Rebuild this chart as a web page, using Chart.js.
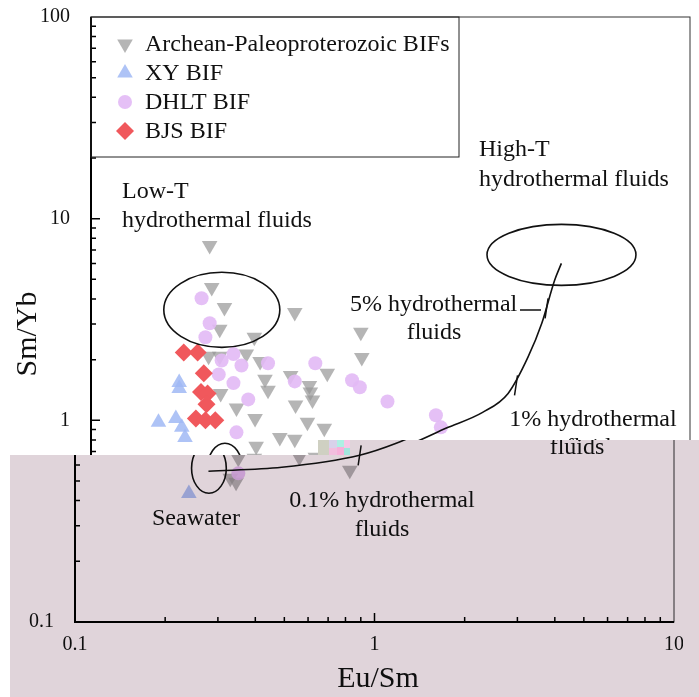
<!DOCTYPE html>
<html>
<head>
<meta charset="utf-8">
<script src="https://cdn.jsdelivr.net/npm/chart.js@4.4.1/dist/chart.umd.min.js"></script>
<style>
  body { margin: 0; background: #fff; }
  #wrap { width: 699px; height: 697px; }
</style>
</head>
<body>
<div id="wrap"><canvas id="chart"></canvas></div>
<script>
// values, [Eu/Sm, Sm/Yb]
const archeanPts = [
  [0.249, 7.37], [0.253, 4.56], [0.279, 3.63], [0.269, 2.83], [0.479, 3.43],
  [0.351, 2.58], [0.247, 2.08], [0.269, 2.08], [0.33, 2.13], [0.367, 1.96],
  [0.381, 1.60], [0.39, 1.41], [0.464, 1.67], [0.536, 1.49], [0.54, 1.38],
  [0.549, 1.26], [0.615, 1.71], [0.271, 1.36], [0.306, 1.15], [0.482, 1.19],
  [0.353, 1.02], [0.528, 0.977], [0.601, 0.913], [0.427, 0.823], [0.479, 0.805],
  [0.356, 0.743], [0.802, 2.05], [0.796, 2.73], [0.351, 0.648], [0.33, 0.516],
  [0.345, 0.493], [0.561, 0.656], [0.827, 0.565]
];
const xyPts = [
  [0.197, 1.54], [0.197, 1.44], [0.168, 0.977], [0.192, 1.02], [0.201, 0.923],
  [0.206, 0.823], [0.24, 0.434]
];
const dhltPts = [
  [0.234, 4.03], [0.249, 3.03], [0.241, 2.58], [0.299, 2.13], [0.273, 1.98],
  [0.318, 1.87], [0.39, 1.92], [0.561, 1.92], [0.267, 1.69], [0.299, 1.53],
  [0.479, 1.56], [0.335, 1.27], [0.306, 0.872], [0.744, 1.58], [0.79, 1.46],
  [0.977, 1.24], [1.418, 1.06], [1.473, 0.923], [0.351, 0.546]
];
const bjsPts = [
  [0.204, 2.17], [0.227, 2.17], [0.238, 1.71], [0.233, 1.38], [0.245, 1.36],
  [0.243, 1.20], [0.224, 1.02], [0.241, 1.0], [0.26, 1.0]
];
// seawater -> high-T fluid mixing curve
const mixingCurve = [
  [0.279, 0.559], [0.49, 0.585], [0.892, 0.671], [1.182, 0.769], [1.53, 0.913],
  [2.03, 1.095], [2.47, 1.36], [2.875, 2.05], [3.2, 3.03], [3.53, 4.94], [3.72, 6.0]
];
const mixTicks = [[0.892, 0.671], [2.625, 1.49], [3.32, 3.59]];
// fields: [xmin, xmax, ymin, ymax]
const lowTField = [0.175, 0.427, 2.30, 5.42];
const highTField = [2.1, 6.6, 4.67, 9.37];
const seawaterField = [0.245, 0.32, 0.435, 0.77];

const xTickLabels = ['0.1', '1', '10'];
const yTickLabels = ['0.1', '1', '10', '100'];

const toPts = arr => arr.map(p => ({x: p[0], y: p[1]}));
const serif = '"Liberation Serif", "Times New Roman", serif';

function decadeLabel(labels) {
  return function(v) {
    const hit = labels.find(l => Math.abs(Number(l) - v) < 1e-9 * Math.max(1, v));
    return hit || '';
  };
}

const series = [
  {label: 'Archean-Paleoproterozoic BIFs', style: 'triangle', rot: 180, r: 9, color: 'rgba(150,150,150,0.7)'},
  {label: 'XY BIF', style: 'triangle', rot: 0, r: 9, color: 'rgba(160,185,245,0.85)'},
  {label: 'DHLT BIF', style: 'circle', rot: 0, r: 7, color: 'rgba(226,185,245,0.9)'},
  {label: 'BJS BIF', style: 'rectRot', rot: 0, r: 9, color: 'rgb(240,88,92)'}
];

function drawText(ctx, s, x, y, align) {
  ctx.textAlign = align || 'left';
  ctx.fillText(s, x, y);
}

const decor = {
  id: 'decor',
  beforeDraw(chart) {
    const ctx = chart.ctx;
    ctx.save();
    ctx.fillStyle = '#fff';
    ctx.fillRect(0, 0, chart.width, chart.height);
    ctx.restore();
  },
  afterDraw(chart) {
    const ctx = chart.ctx;
    const a = chart.chartArea;
    const xs = chart.scales.x, ys = chart.scales.y;
    ctx.save();

    // frame
    ctx.strokeStyle = '#333';
    ctx.lineWidth = 1;
    ctx.strokeRect(a.left, a.top, a.right - a.left, a.bottom - a.top);
    ctx.strokeStyle = '#000';
    ctx.lineWidth = 2;
    ctx.beginPath();
    ctx.moveTo(a.left, a.top);
    ctx.lineTo(a.left, a.bottom);
    ctx.lineTo(a.right, a.bottom);
    ctx.stroke();

    // inward log ticks
    ctx.lineWidth = 1.5;
    ctx.beginPath();
    for (let e = -1; e < 2; e++) {
      for (let k = 1; k < 10; k++) {
        const v = k * Math.pow(10, e);
        const len = k === 1 ? 9 : 5;
        const py = ys.getPixelForValue(v);
        ctx.moveTo(a.left, py); ctx.lineTo(a.left + len, py);
      }
    }
    for (let e = -1; e < 1; e++) {
      for (let k = 1; k < 10; k++) {
        const v = k * Math.pow(10, e);
        const len = k === 1 ? 9 : 5;
        const px = xs.getPixelForValue(v);
        ctx.moveTo(px, a.bottom); ctx.lineTo(px, a.bottom - len);
      }
    }
    ctx.stroke();

    // legend box
    ctx.lineWidth = 1;
    ctx.strokeStyle = '#222';
    ctx.strokeRect(a.left, a.top, 368, 140);
    ctx.font = '24px ' + serif;
    ctx.textBaseline = 'middle';
    series.forEach((s, i) => {
      const cy = 44 + i * 29;
      ctx.fillStyle = s.color;
      Chart.helpers.drawPoint(ctx, {pointStyle: s.style, radius: s.r, rotation: s.rot, borderWidth: 0}, 125, cy);
      ctx.fillStyle = '#111';
      drawText(ctx, s.label, 145, cy + 1);
    });

    // fields
    ctx.strokeStyle = '#111';
    ctx.lineWidth = 1.6;
    [lowTField, highTField, seawaterField].forEach(f => {
      const x0 = xs.getPixelForValue(f[0]), x1 = xs.getPixelForValue(f[1]);
      const y0 = ys.getPixelForValue(f[3]), y1 = ys.getPixelForValue(f[2]);
      ctx.beginPath();
      ctx.ellipse((x0 + x1) / 2, (y0 + y1) / 2, (x1 - x0) / 2, (y1 - y0) / 2, 0, 0, Math.PI * 2);
      ctx.stroke();
    });

    // mixing ticks
    ctx.lineWidth = 1.5;
    ctx.beginPath();
    mixTicks.forEach(t => {
      const px = xs.getPixelForValue(t[0]), py = ys.getPixelForValue(t[1]);
      ctx.moveTo(px - 1.5, py + 10); ctx.lineTo(px + 1.5, py - 10);
    });
    // leader after "5% hydrothermal"
    ctx.moveTo(520, 310); ctx.lineTo(541, 310);
    ctx.stroke();

    // annotations
    ctx.fillStyle = '#111';
    ctx.font = '24px ' + serif;
    drawText(ctx, 'Low-T', 122, 192);
    drawText(ctx, 'hydrothermal fluids', 122, 221);
    drawText(ctx, 'High-T', 479, 150);
    drawText(ctx, 'hydrothermal fluids', 479, 180);
    drawText(ctx, '5% hydrothermal', 350, 305);
    drawText(ctx, 'fluids', 434, 333, 'center');
    drawText(ctx, '1% hydrothermal', 593, 420, 'center');
    drawText(ctx, 'fluids', 593, 448, 'center');
    drawText(ctx, '0.1% hydrothermal', 398, 501, 'center');
    drawText(ctx, 'fluids', 398, 530, 'center');
    drawText(ctx, 'Seawater', 212, 519, 'center');

    // axis titles
    ctx.font = '30px ' + serif;
    drawText(ctx, 'Eu/Sm', 394, 679, 'center');
    ctx.save();
    ctx.translate(28, 334);
    ctx.rotate(-Math.PI / 2);
    drawText(ctx, 'Sm/Yb', 0, 0, 'center');
    ctx.restore();

    ctx.restore();

    // the reference image has a shifted, tinted lower band
    const r = chart.currentDevicePixelRatio;
    const c = chart.canvas;
    const copy = document.createElement('canvas');
    copy.width = c.width; copy.height = c.height;
    copy.getContext('2d').drawImage(c, 0, 0);
    const shift = 16;
    ctx.save();
    ctx.setTransform(1, 0, 0, 1, 0, 0);
    function band(x0, yTop, yBot) {
      const sx = Math.round(x0 * r), sy = Math.round(yTop * r);
      const w = c.width - sx, h = Math.round((yBot - yTop) * r);
      ctx.fillStyle = '#fff';
      ctx.fillRect(sx, sy, w, h);
      ctx.drawImage(copy, sx + shift * r, sy, w - shift * r, h, sx, sy, w - shift * r, h);
      ctx.globalCompositeOperation = 'multiply';
      ctx.fillStyle = 'rgb(224,212,218)';
      ctx.fillRect(sx, sy, w, h);
      ctx.globalCompositeOperation = 'source-over';
    }
    band(10, 455, 697);
    band(318, 440, 455);
    ctx.restore();

    // small noisy block at the band's step
    ctx.save();
    [[318, 440, 11, 15, '#cfd0c2'], [329, 440, 8, 8, '#d8d2ea'], [337, 440, 7, 7, '#aef0e4'],
     [344, 440, 6, 8, '#f6c8e6'], [329, 448, 8, 7, '#f2bede'], [337, 447, 7, 8, '#f7b0da'],
     [344, 448, 6, 7, '#a2e6de']].forEach(b => {
      ctx.fillStyle = b[4];
      ctx.fillRect(b[0], b[1], b[2], b[3]);
    });
    ctx.restore();
  }
};

const ctx = document.getElementById('chart').getContext('2d');
const chart = new Chart(ctx, {
  type: 'scatter',
  data: {
    datasets: [{
      type: 'line',
      label: 'mixing',
      data: toPts(mixingCurve),
      borderColor: '#111',
      borderWidth: 1.6,
      pointRadius: 0,
      cubicInterpolationMode: 'monotone',
      fill: false
    }, {
      label: series[3].label,
      data: toPts(bjsPts),
      pointStyle: 'rectRot',
      pointRadius: series[3].r,
      pointBorderWidth: 0,
      backgroundColor: series[3].color
    }, {
      label: series[2].label,
      data: toPts(dhltPts),
      pointStyle: 'circle',
      pointRadius: series[2].r,
      pointBorderWidth: 0,
      backgroundColor: series[2].color
    }, {
      label: series[1].label,
      data: toPts(xyPts),
      pointStyle: 'triangle',
      pointRadius: series[1].r,
      pointBorderWidth: 0,
      backgroundColor: series[1].color
    }, {
      label: series[0].label,
      data: toPts(archeanPts),
      pointStyle: 'triangle',
      rotation: 180,
      pointRadius: series[0].r,
      pointBorderWidth: 0,
      backgroundColor: series[0].color
    }]
  },
  options: {
    responsive: true,
    maintainAspectRatio: false,
    animation: false,
    layout: { padding: { left: 0, right: 4, top: 17, bottom: 0 } },
    plugins: { legend: { display: false }, tooltip: { enabled: false } },
    scales: {
      x: {
        type: 'logarithmic',
        min: 0.1,
        max: 10,
        grid: { display: false },
        border: { display: false },
        ticks: {
          autoSkip: false,
          maxRotation: 0,
          padding: 3,
          color: '#111',
          font: { family: serif, size: 20 },
          callback: decadeLabel(xTickLabels)
        },
        afterFit: s => { s.height = 75; s.paddingLeft = 0; s.paddingRight = 0; }
      },
      y: {
        type: 'logarithmic',
        min: 0.1,
        max: 100,
        grid: { display: false },
        border: { display: false },
        ticks: {
          autoSkip: false,
          padding: 13,
          color: '#111',
          font: { family: serif, size: 20 },
          callback: decadeLabel(yTickLabels)
        },
        afterFit: s => { s.width = 91; s.paddingTop = 0; s.paddingBottom = 0; }
      }
    }
  },
  plugins: [decor]
});
</script>
</body>
</html>
